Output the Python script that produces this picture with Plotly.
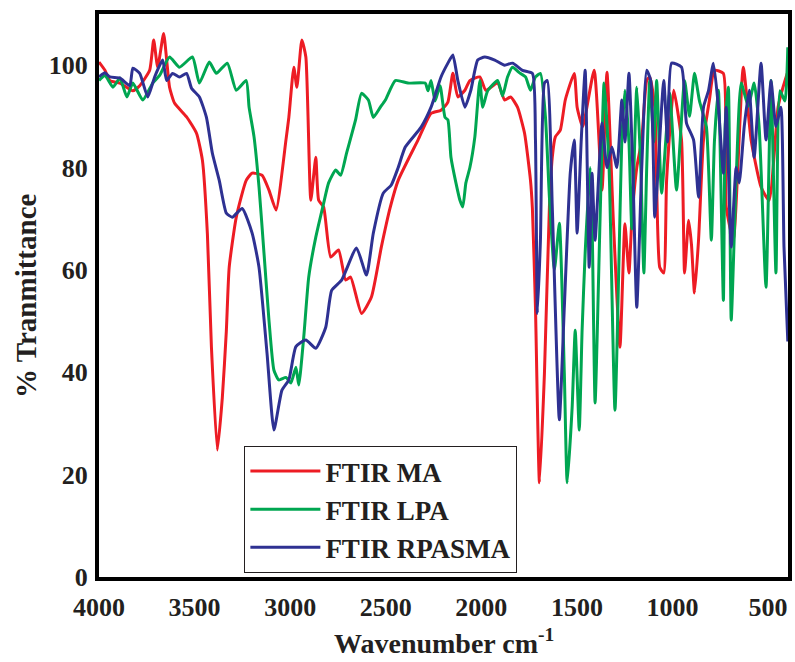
import plotly.graph_objects as go

# ---- data (wavenumber cm^-1, % transmittance) ----
ma_wn = [4000, 3969, 3943, 3891, 3823, 3787, 3735, 3714, 3693, 3662, 3646, 3631, 3605, 3542, 3490, 3459,
         3433, 3412, 3381, 3355, 3334, 3319, 3282, 3230, 3199, 3147, 3111, 3074, 3022, 3007, 2981, 2965,
         2939, 2918, 2892, 2866, 2851, 2825, 2788, 2747, 2710, 2684, 2627, 2575, 2523, 2476, 2435, 2331,
         2263, 2211, 2175, 2149, 2123, 2086, 2060, 2008, 1977, 1915, 1878, 1847, 1811, 1774, 1743, 1733,
         1717, 1696, 1670, 1644, 1629, 1613, 1587, 1561, 1514, 1499, 1470, 1410, 1369, 1343, 1310, 1275,
         1249, 1228, 1213, 1187, 1161, 1135, 1119, 1093, 1067, 1046, 1031, 994, 953, 937, 916, 901,
         885, 864, 838, 807, 781, 734, 719, 682, 630, 589, 537, 495, 448, 422, 400]
ma_t = [100.6, 99, 97, 96.5, 95, 96, 99, 104.9, 99.6, 106.2, 101, 95.7, 92.6, 89.9, 86.7, 81.4,
        67, 45, 24.8, 35, 48, 60.5, 70.3, 77.5, 78.9, 78.5, 75.6, 71.7, 85.4, 89.8, 99.6, 95.7,
        104.9, 101.6, 73.6, 82, 73.6, 72.3, 62.5, 63.9, 58, 58.6, 51.5, 54.7, 64.5, 72.3, 77.5, 85.4,
        90.6, 91.2, 92.8, 98.4, 93.8, 95.1, 97, 97.7, 95.1, 96.5, 93.2, 93.8, 91.8, 86.7, 77.5, 72,
        52.7, 18.4, 39.8, 72.3, 82, 86, 87.3, 93.2, 98.4, 91.8, 88, 99, 75.6, 98.6, 70, 44.9,
        69, 59.4, 69.7, 80, 85.4, 97, 97.7, 91.8, 60.5, 59.4, 77.5, 95.1, 85.4, 59.4, 69.7, 65,
        55.5, 65.8, 85.4, 93.2, 99, 98.4, 72.3, 65.8, 99.6, 85.4, 76.2, 73.6, 91.8, 95.7, 98.4]

lpa_wn = [4000, 3969, 3927, 3891, 3854, 3823, 3771, 3719, 3683, 3631, 3579, 3511, 3475, 3423, 3386, 3329,
          3282, 3230, 3215, 3189, 3163, 3137, 3111, 3085, 3059, 3022, 2996, 2970, 2955, 2929, 2903, 2866,
          2825, 2799, 2762, 2736, 2705, 2658, 2627, 2591, 2565, 2528, 2502, 2450, 2383, 2294, 2279, 2263,
          2242, 2216, 2190, 2175, 2159, 2133, 2112, 2097, 2081, 2060, 2034, 2008, 1993, 1967, 1915, 1889,
          1863, 1837, 1800, 1769, 1743, 1717, 1691, 1665, 1644, 1618, 1592, 1566, 1551, 1525, 1509, 1488,
          1473, 1457, 1431, 1421, 1405, 1379, 1358, 1332, 1301, 1265, 1249, 1228, 1213, 1187, 1166, 1150,
          1135, 1119, 1098, 1083, 1057, 1015, 979, 937, 911, 885, 859, 823, 797, 781, 760, 734,
          724, 708, 693, 667, 641, 604, 573, 547, 511, 485, 459, 438, 412, 397]
lpa_t = [97, 98, 95.7, 97.5, 93.8, 96.5, 93.2, 96.5, 98, 101.6, 99.6, 101.6, 96.5, 100.6, 98.4, 100.4,
         95.1, 97, 91.8, 86, 76.2, 63.3, 50.2, 40.4, 38.5, 39, 37.9, 41, 37.5, 46.9, 58.6, 66.4,
         73, 77, 79.5, 78.5, 82.8, 89.3, 94.5, 93.2, 89.8, 91.8, 93.2, 97, 96.5, 96.5, 95, 97,
         93, 96, 89.8, 89.3, 82, 77, 73.6, 72.3, 77, 80, 86, 97, 91.8, 95, 97, 94,
         97.7, 99.6, 98.5, 97.7, 95.1, 97.7, 98.4, 90, 74.2, 60, 69.1, 39.8, 18.4, 33.2, 48.2, 28.7,
         48.2, 63.3, 80, 70, 34, 70, 96.5, 80, 32.6, 85.4, 95.1, 85, 68, 95.7, 80, 59.4,
         80, 97, 85, 97, 75, 94.5, 75.6, 97, 90, 98.4, 93, 88, 65.8, 85, 95.1, 54,
         88.7, 95.7, 50.2, 78, 96.5, 92, 96.5, 88, 56.6, 97, 59.4, 95, 93, 103.5]

rpasma_wn = [4000, 3969, 3943, 3891, 3839, 3823, 3787, 3745, 3709, 3667, 3646, 3615, 3579, 3542, 3516, 3475,
             3438, 3407, 3371, 3334, 3303, 3251, 3199, 3163, 3121, 3085, 3043, 3007, 2970, 2918, 2866, 2814,
             2783, 2731, 2653, 2601, 2565, 2513, 2471, 2435, 2398, 2315, 2263, 2211, 2175, 2149, 2123, 2086,
             2055, 2019, 1982, 1930, 1878, 1837, 1785, 1733, 1717, 1707, 1691, 1670, 1655, 1629, 1592, 1566,
             1535, 1514, 1499, 1478, 1457, 1436, 1421, 1405, 1369, 1343, 1317, 1291, 1265, 1249, 1228, 1208,
             1187, 1161, 1135, 1114, 1093, 1083, 1046, 1026, 1005, 953, 927, 890, 864, 838, 812, 786,
             760, 734, 719, 693, 667, 651, 625, 599, 573, 537, 511, 485, 459, 433, 417, 397]
rpasma_t = [97.7, 98.5, 97.7, 97.5, 96, 99.4, 98.4, 93.8, 97.7, 101, 97, 98.4, 97.7, 98.4, 95.5, 93.8,
            89.8, 82.8, 77.5, 71.1, 70.3, 72, 67.2, 60.5, 43.7, 28.7, 36.5, 38.5, 45, 46.3, 44.7, 48.8,
            56, 58, 64.3, 59, 67.2, 75, 76.6, 80, 84, 87.9, 91.8, 97.7, 100.4, 102, 97, 91.8,
            95.1, 101, 101.6, 101, 100, 100.4, 99, 98.4, 85.4, 51.5, 65.8, 96.5, 97, 72.3, 30.7, 52.7,
            78.9, 85.4, 67.2, 85, 99, 60.5, 78.9, 65.8, 88.7, 80, 84, 80, 93.2, 85, 98.4, 80,
            52.7, 80, 99, 97, 70.3, 75, 97, 85, 100.4, 99.6, 88.7, 85.4, 74.2, 91.8, 95, 100.4,
            91.8, 78.9, 91.8, 64.5, 80, 77, 88, 95.1, 82, 100.4, 85.4, 97, 88, 91.8, 64.5, 46]

series_names = ["FTIR MA", "FTIR LPA", "FTIR RPASMA"]
series_colors = ["#ED1C24", "#00A651", "#2E3192"]
x_ticks = [4000, 3500, 3000, 2500, 2000, 1500, 1000, 500]
y_ticks = [0, 20, 40, 60, 80, 100]

FONT = "Liberation Serif"

fig = go.Figure()
for name, color, xs, ys in zip(series_names, series_colors,
                                [ma_wn, lpa_wn, rpasma_wn], [ma_t, lpa_t, rpasma_t]):
    fig.add_trace(go.Scatter(x=xs, y=ys, mode="lines", name=name,
                             line=dict(color=color, width=3, shape="spline", smoothing=0.5)))

axis_common = dict(showline=True, mirror=True, linecolor="black", linewidth=4,
                   showgrid=False, zeroline=False, ticks="")

fig.update_layout(
    width=795, height=662,
    margin=dict(l=99, r=3, t=14, b=85),
    paper_bgcolor="white", plot_bgcolor="white",
    xaxis=dict(range=[4000, 396], tickvals=x_ticks, ticktext=[str(v) for v in x_ticks],
               tickfont=dict(family=FONT, size=26, color="#231f20", weight="bold"),
               ticklabelstandoff=4, **axis_common),
    yaxis=dict(range=[0, 110], tickvals=y_ticks, ticktext=[str(v) for v in y_ticks],
               tickfont=dict(family=FONT, size=26, color="#231f20", weight="bold"),
               ticklabelstandoff=2, **axis_common),
    legend=dict(x=0.211, y=0.2327, xanchor="left", yanchor="top",
                bgcolor="white", bordercolor="#231f20", borderwidth=1,
                font=dict(family=FONT, size=27, color="#231f20", weight="bold"),
                itemwidth=70, tracegroupgap=0),
    showlegend=True,
    annotations=[
        dict(text="Wavenumber cm<sup>-1</sup>", xref="paper", yref="paper", x=0.5, y=-0.1137,
             xanchor="center", yanchor="middle", showarrow=False,
             font=dict(family=FONT, size=28, color="#231f20", weight="bold")),
        dict(text="% Tranmittance", xref="paper", yref="paper", x=-0.1068, y=0.5,
             xanchor="center", yanchor="middle", showarrow=False, textangle=-90,
             font=dict(family=FONT, size=29, color="#231f20", weight="bold")),
    ],
)

fig.write_html("out.html")
